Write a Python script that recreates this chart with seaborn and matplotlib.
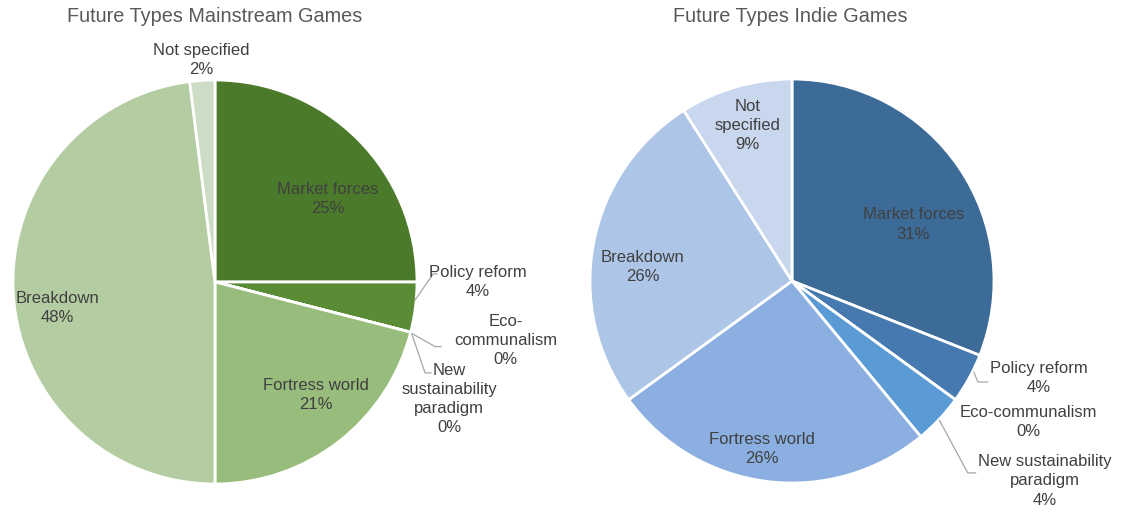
import matplotlib
matplotlib.use("Agg")
import matplotlib.pyplot as plt
import seaborn as sns

sns.set_theme(style="white")
plt.rcParams['font.family'] = ['Liberation Sans', 'DejaVu Sans']

# ---- data ----
categories = ["Market forces", "Policy reform", "Eco-communalism",
              "New sustainability paradigm", "Fortress world", "Breakdown",
              "Not specified"]
mainstream_pct = [25, 4, 0, 0, 21, 48, 2]
indie_pct = [31, 4, 0, 4, 26, 26, 9]
titles = ["Future Types Mainstream Games", "Future Types Indie Games"]

mainstream_labels = ["Market forces", "Policy reform", "Eco-\ncommunalism",
                     "New\nsustainability\nparadigm", "Fortress world",
                     "Breakdown", "Not specified"]
indie_labels = ["Market forces", "Policy reform", "Eco-communalism",
                "New sustainability\nparadigm", "Fortress world",
                "Breakdown", "Not\nspecified"]

green_colors = ["#4b7a2a", "#5a8b35", "#6f9c4a", "#80aa5f", "#97bc7b", "#b4cca2", "#cddcc4"]
blue_colors = ["#3d6b97", "#4679b0", "#4f89c4", "#5b9bd5", "#8aafe0", "#adc5e7", "#c8d6ee"]

W, H = 1132, 519
fig = plt.figure(figsize=(W / 100, H / 100), dpi=100)
fig.patch.set_facecolor("white")

TXT = "#404040"
FS = 12


def make_axes(cx, cy_top, r, left, width):
    ax = fig.add_axes([left / W, 0, width / W, 1])
    return ax, (cx, H - cy_top, r, left, width)


def set_limits(ax, geom):
    cx, cy, r, left, width = geom
    ax.set_xlim((left - cx) / r, (left + width - cx) / r)
    ax.set_ylim((0 - cy) / r, (H - cy) / r)
    ax.set_aspect("equal", adjustable="box")
    ax.axis("off")


def draw(ax, geom, values, labels, colors, label_pos, leaders):
    wedges, _ = ax.pie(values, colors=colors, startangle=90, counterclock=False,
                       radius=1.0, wedgeprops=dict(edgecolor="white", linewidth=2))
    for i, (lab, v) in enumerate(zip(labels, values)):
        x, y = label_pos[i]
        ax.text(x, y, f"{lab}\n{v}%", ha="center", va="center", fontsize=FS,
                color=TXT, linespacing=1.35)
    for pts in leaders:
        xs = [p[0] for p in pts]
        ys = [p[1] for p in pts]
        ax.plot(xs, ys, color="#a6a6a6", lw=0.9, clip_on=False)
    set_limits(ax, geom)


# Left pie
axL, gL = make_axes(215, 282, 202, 0, 566)
posL = [(0.56, 0.41), (1.30, 0.0), (1.44, -0.29), (1.16, -0.58),
        (0.50, -0.56), (-0.78, -0.13), (-0.07, 1.10)]
leadL = [[(0.99, -0.09), (1.08, 0.04), (1.10, 0.04)],
         [(0.975, -0.255), (1.09, -0.32), (1.12, -0.32)],
         [(0.975, -0.26), (1.04, -0.45), (1.07, -0.45)]]
draw(axL, gL, mainstream_pct, mainstream_labels, green_colors, posL, leadL)

# Right pie
axR, gR = make_axes(792, 281, 202, 566, 566)
posR = [(0.60, 0.28), (1.22, -0.48), (1.17, -0.70), (1.25, -0.99),
        (-0.15, -0.83), (-0.74, 0.07), (-0.22, 0.77)]
leadR = [[(0.90, -0.45), (0.92, -0.50), (0.97, -0.50)],
         [(0.73, -0.69), (0.87, -0.95), (0.91, -0.95)]]
draw(axR, gR, indie_pct, indie_labels, blue_colors, posR, leadR)

fig.text(215 / W, 1 - 17 / H, titles[0], ha="center", va="center", fontsize=14.3, color="#595959")
fig.text(790 / W, 1 - 17 / H, titles[1], ha="center", va="center", fontsize=14.3, color="#595959")

fig.savefig("out.png", dpi=100, facecolor="white")
